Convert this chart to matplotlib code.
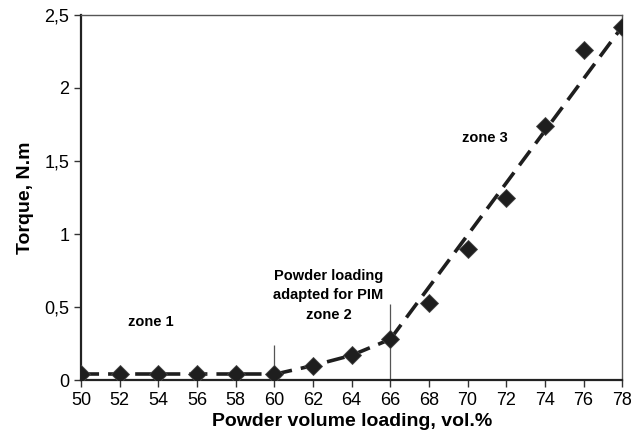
import matplotlib.pyplot as plt
from matplotlib.ticker import FuncFormatter

plt.rcParams['font.family'] = ['Liberation Sans', 'DejaVu Sans']

# Measured torque vs powder volume loading
loading = [50, 52, 54, 56, 58, 60, 62, 64, 66, 68, 70, 72, 74, 76, 78]
torque = [0.04, 0.04, 0.04, 0.04, 0.04, 0.04, 0.10, 0.17, 0.28, 0.53, 0.90, 1.25, 1.74, 2.26, 2.42]

# Trend lines for each zone
zone1_x = [50, 52, 54, 56, 58, 60]
zone1_y = [0.04, 0.04, 0.04, 0.04, 0.04, 0.04]
zone2_x = [60, 62, 64, 66]
zone2_y = [0.04, 0.10, 0.17, 0.28]
zone3_x = [66, 78]
zone3_y = [0.28, 2.42]

# Zone boundary markers (x, height)
bound_x = [60, 66]
bound_top = [0.24, 0.52]

fig = plt.figure(figsize=(6.33, 4.4), dpi=100)
ax = fig.add_axes([0.128, 0.136, 0.855, 0.830])

dash = dict(color='#1e1e1e', linewidth=2.6, dashes=(5, 2.5), zorder=2)
ax.plot(zone1_x, zone1_y, **dash)
ax.plot(zone2_x, zone2_y, **dash)
ax.plot(zone3_x, zone3_y, **dash)

ax.vlines(bound_x, 0, bound_top, colors='#555555', linewidth=0.9, zorder=1)

ax.plot(loading, torque, linestyle='none', marker='D', markersize=9.5,
        color='#1e1e1e', markeredgecolor='#444444', markeredgewidth=0.6, zorder=3)

ax.text(53.6, 0.40, 'zone 1', fontsize=10.5, fontweight='bold', ha='center', va='center')
ax.text(62.8, 0.58, 'Powder loading\nadapted for PIM\nzone 2', fontsize=10.5,
        fontweight='bold', ha='center', va='center', linespacing=1.5)
ax.text(70.9, 1.66, 'zone 3', fontsize=10.5, fontweight='bold', ha='center', va='center')

ax.set_xlim(50, 78)
ax.set_ylim(0, 2.5)
ax.set_xticks(range(50, 79, 2))
ax.set_yticks([0, 0.5, 1, 1.5, 2, 2.5])
ax.yaxis.set_major_formatter(FuncFormatter(lambda v, p: f"{v:g}".replace('.', ',')))
ax.tick_params(labelsize=13, direction='out', length=5, width=1, color='#333333')

ax.set_xlabel('Powder volume loading, vol.%', fontsize=14, fontweight='bold', labelpad=3)
ax.set_ylabel('Torque, N.m', fontsize=14, fontweight='bold', labelpad=7)

ax.spines['left'].set_linewidth(1.6)
ax.spines['bottom'].set_linewidth(1.6)
ax.spines['left'].set_color('#222222')
ax.spines['bottom'].set_color('#222222')
ax.spines['top'].set_linewidth(1.0)
ax.spines['right'].set_linewidth(1.0)
ax.spines['top'].set_color('#555555')
ax.spines['right'].set_color('#555555')

fig.savefig('out.png', dpi=100)
